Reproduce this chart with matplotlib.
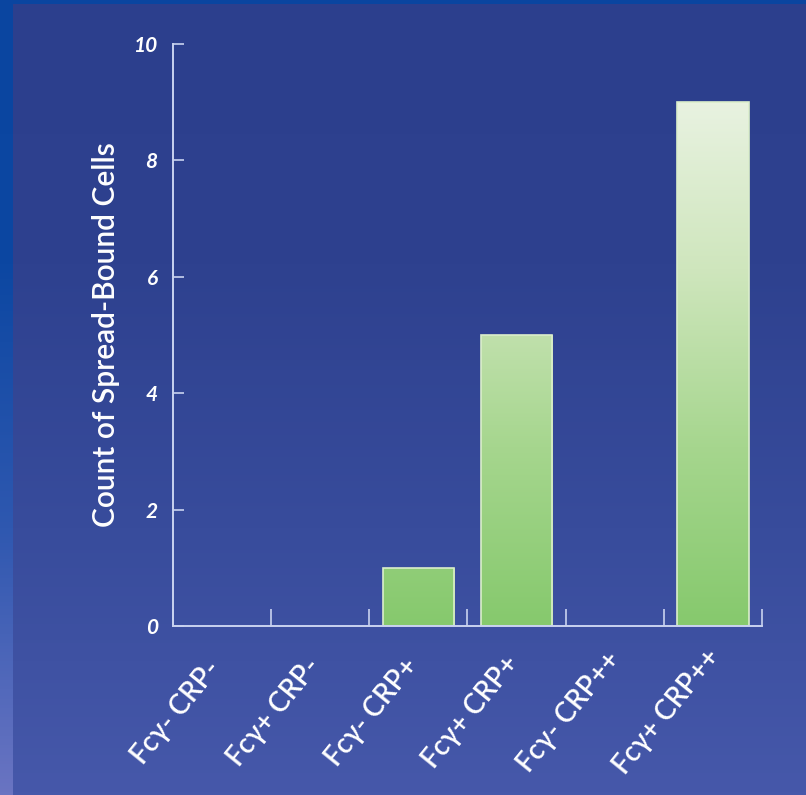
import numpy as np
import matplotlib
matplotlib.use("Agg")
import matplotlib.pyplot as plt
from matplotlib.colors import LinearSegmentedColormap
import matplotlib.transforms as mtransforms

categories = ["Fcγ- CRP-", "Fcγ+ CRP-", "Fcγ- CRP+", "Fcγ+ CRP+", "Fcγ- CRP++", "Fcγ+ CRP++"]
counts = [0, 0, 1, 5, 0, 9]
yticks = [0, 2, 4, 6, 8, 10]
ylabel = "Count of Spread-Bound Cells"

W, H, DPI = 806, 795, 100
fig = plt.figure(figsize=(W / DPI, H / DPI), dpi=DPI)

# background: vertical blue gradient with a frame strip at left and top
bg = fig.add_axes([0, 0, 1, 1])
bg.set_axis_off()
bg.set_xlim(0, W)
bg.set_ylim(0, H)
bg_cmap = LinearSegmentedColormap.from_list("bg", ["#4658aa", "#384c9c", "#2e418f", "#2c3f8d"])
grad = np.linspace(0, 1, 256).reshape(-1, 1)
bg.imshow(grad, extent=[0, W, 0, H], origin="lower", cmap=bg_cmap, aspect="auto", zorder=0)
strip_cmap = LinearSegmentedColormap.from_list("strip", ["#6a74c2", "#2f58b0", "#0c47a2", "#0a45a0"])
bg.imshow(grad, extent=[0, 13, 0, H], origin="lower", cmap=strip_cmap, aspect="auto", zorder=1)
bg.add_patch(plt.Rectangle((0, H - 4), W, 4, color="#0a45a0", lw=0, zorder=2))

ax = fig.add_axes([173 / W, 1 - 626 / H, (762 - 173) / W, (626 - 44) / H])
ax.set_facecolor("none")
n = len(categories)
x = np.arange(n)
ax.set_xlim(-0.5, n - 0.5)
ax.set_ylim(0, 10)

bar_cmap = LinearSegmentedColormap.from_list("bar", ["#86c96d", "#a6d68e", "#cfe6bd", "#eaf3e3"])
bars = ax.bar(x, counts, width=0.73, color="none", edgecolor="#dbeecb", linewidth=1.2, zorder=3)
vgrad = np.linspace(0, 1, 256).reshape(-1, 1)
for rect, v in zip(bars, counts):
    if v <= 0:
        rect.set_linewidth(0)
        continue
    x0 = rect.get_x()
    im = ax.imshow(vgrad, extent=[x0, x0 + rect.get_width(), 0, 9.2], origin="lower",
                   cmap=bar_cmap, aspect="auto", zorder=2, vmin=0, vmax=1)
    im.set_clip_path(rect)

axis_col = "#c9d3f0"
for s in ["top", "right"]:
    ax.spines[s].set_visible(False)
for s in ["left", "bottom"]:
    ax.spines[s].set_color(axis_col)
    ax.spines[s].set_linewidth(1.4)
    ax.spines[s].set_zorder(4)

ax.set_yticks(yticks)
ax.set_yticklabels([str(t) for t in yticks], fontfamily="Lato", fontweight="bold",
                   fontstyle="italic", fontsize=15, color="white")
ax.tick_params(axis="y", direction="in", length=8, width=1.2, color=axis_col, pad=11)

# category boundary ticks on the x axis
ax.set_xticks(np.arange(-0.5, n, 1.0), minor=True)
ax.tick_params(axis="x", which="minor", direction="in", length=12, width=1.2, color=axis_col)
ax.set_xticks(x)
ax.set_xticklabels(categories, rotation=51, ha="center", va="center", rotation_mode="anchor",
                   fontfamily="Lato", fontweight="semibold", fontsize=20, color="white")
ax.tick_params(axis="x", which="major", length=0, pad=0)
for lab in ax.get_xticklabels():
    lab.set_transform(lab.get_transform() + mtransforms.ScaledTranslation(-0.46, -0.86, fig.dpi_scale_trans))

ax.set_ylabel(ylabel, fontfamily="Lato", fontweight="semibold", fontsize=21.5, color="white", labelpad=10)

fig.savefig("out.png", dpi=DPI)
